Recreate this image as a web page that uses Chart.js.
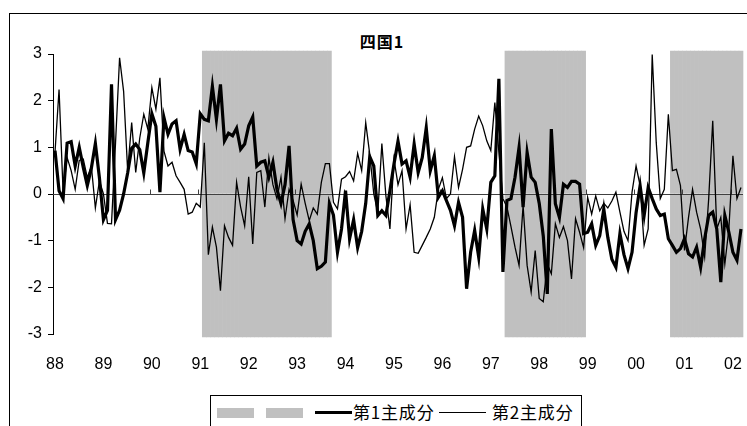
<!DOCTYPE html>
<html lang="ja">
<head>
<meta charset="utf-8">
<title>四国1</title>
<script src="https://cdn.jsdelivr.net/npm/chart.js@4.4.1/dist/chart.umd.min.js"></script>
<style>
  html, body { margin: 0; padding: 0; background: #fff; overflow: hidden; }
  #wrap { position: relative; width: 747px; height: 426px; overflow: hidden; }
  #frame { position: absolute; left: 9px; top: 13px; width: 800px; height: 500px; border: 1px solid #000; }
  #title { position: absolute; left: 0; width: 764px; top: 29px; text-align: center;
           font: bold 16px "Noto Sans CJK JP", sans-serif; letter-spacing: 1px; color: #000; }
  #chart { position: absolute; left: 0; top: 0; }
  #legend { position: absolute; left: 210px; top: 395px; width: 370px; height: 60px; border: 1px solid #000; background: #fff; }
  #legend .box { position: absolute; top: 12px; width: 37px; height: 10px; background: #c0c0c0; }
  #legend .ln { position: absolute; background: #000; }
  #legend .txt { position: absolute; top: 6px; font: 17px "Noto Sans CJK JP", sans-serif; color: #000;
                 line-height: 20px; letter-spacing: 0.8px; white-space: nowrap; }
</style>
</head>
<body>
<div id="wrap">
  <div id="frame"></div>
  <div id="title">四国1</div>
  <canvas id="chart" width="747" height="426"></canvas>
  <div id="legend">
    <span class="box" style="left:6px"></span>
    <span class="box" style="left:55px"></span>
    <span class="ln" style="left:104px; top:15px; width:37px; height:3px"></span>
    <span class="txt" style="left:142px">第1主成分</span>
    <span class="ln" style="left:228px; top:16px; width:47px; height:1px"></span>
    <span class="txt" style="left:281px">第2主成分</span>
  </div>
</div>
<script>
// --- DATA ---
const years = ['88', '89', '90', '91', '92', '93', '94', '95', '96', '97', '98', '99', '00', '01', '02'];
const lastMonth = 3; // series ends in 2002/03

// 第1主成分 (monthly, 1988/01 - 2002/03)
const pc1 = [
  0.93, 0.07, -0.1, 1.09, 1.12, 0.6, 1.0, 0.57, 0.18, 0.55, 1.08, 0.35,
  -0.55, -0.35, 2.35, -0.55, -0.35, 0.0, 0.45, 0.98, 1.07, 0.95, 0.45, 1.1,
  1.72, 1.45, 0.04, 1.64, 1.28, 1.5, 1.57, 0.96, 1.28, 0.93, 0.9, 0.65,
  1.72, 1.6, 1.57, 2.31, 1.6, 2.35, 1.14, 1.3, 1.25, 1.41, 0.96, 1.07,
  1.46, 1.65, 0.6, 0.68, 0.71, 0.36, 0.68, 0.1, -0.2, 0.2, 1.03, -0.55,
  -1.0, -1.07, -0.8, -0.64, -1.0, -1.6, -1.55, -1.46, -0.2, -0.45, -1.25, -0.75,
  0.07, -0.96, -0.55, -1.15, -0.8, -0.2, 0.8, 0.6, -0.46, -0.36, -0.46, 0.07,
  0.64, 1.13, 0.64, 0.71, 0.36, 1.07, 0.46, 0.78, 1.42, 0.5, 0.82, -0.07,
  0.07, -0.14, -0.35, -0.68, -0.18, -0.5, -2.03, -1.25, -0.78, -1.35, -0.32, -0.75,
  0.25, 0.39, 2.47, -1.67, -0.14, -0.1, 0.36, 1.0, -0.28, 0.89, 0.36, 0.25,
  -0.2, -0.9, -2.14, 1.39, -0.21, -0.5, 0.21, 0.14, 0.27, 0.27, 0.21, -0.85,
  -0.82, -0.64, -1.1, -0.89, -0.32, -0.93, -1.4, -1.57, -0.85, -1.3, -1.6, -1.25,
  -0.4, 0.18, -0.46, 0.14, -0.1, -0.32, -0.46, -0.43, -0.96, -1.1, -1.25, -1.17,
  -0.96, -1.28, -1.35, -1.14, -1.57, -0.96, -0.46, -0.39, -0.75, -1.89, -0.46, -0.82,
  -1.25, -1.42, -0.75
];

// 第2主成分
const pc2 = [
  0.9, 2.24, 0.05, 0.78, 0.5, 0.1, 0.72, 0.75, 0.35, 0.6, -0.3, 0.28,
  0.0, -0.63, -0.64, 1.1, 2.92, 2.2, 0.5, 1.53, 0.46, 1.2, 1.71, 1.39,
  2.28, 1.82, 2.49, 0.92, 0.6, 0.68, 0.39, 0.25, 0.1, -0.43, -0.39, -0.2,
  -0.28, 1.1, -1.3, -0.71, -1.14, -2.07, -0.68, -0.93, -1.1, 0.25, -0.28, -0.68,
  0.37, -1.07, 0.46, 0.5, -0.28, 0.78, 0.2, -0.1, 0.36, -0.53, 0.1, -0.14,
  -0.45, 0.21, -0.2, -0.57, -0.3, -0.43, 0.25, 0.65, 0.65, -0.18, -0.32, 0.32,
  0.37, 0.48, 0.28, 0.87, 0.5, 1.53, 0.85, 0.0, -0.4, 1.08, -0.04, -0.75,
  0.75, 0.2, 0.5, -0.75, -0.23, -1.25, -1.27, -1.1, -0.93, -0.75, -0.5, 0.1,
  0.35, -0.1, 0.0, 0.8, 0.14, 0.53, 1.0, 1.03, 1.39, 1.67, 1.46, 1.14,
  0.93, 1.96, 0.9, -0.1, -0.28, -0.7, -1.14, -1.53, -0.25, -1.53, -2.1, -1.21,
  -2.24, -2.31, -1.5, -1.71, -0.64, -0.93, -0.7, -1.0, -1.82, -0.53, -0.82, -1.15,
  -0.07, -0.43, -0.04, -0.36, -0.2, -0.3, -0.15, 0.04, -0.39, -0.8, -1.0, 0.04,
  0.6, 0.18, -1.1, -0.75, 2.99, 1.1, -0.1, 0.1, 1.71, 0.5, 0.53, 0.18,
  -1.21, -0.5, 0.1, -0.39, -0.75, -1.35, -0.1, 1.57, -0.75, -0.5, -1.5, -0.75,
  0.82, -0.1, 0.14
];

// recession periods (first and last shaded month, as yy/mm)
const recessions = [['91/02', '93/09'], ['97/05', '98/12'], ['00/10', '02/03']];
const SHADE = 3.06;

// --- CATEGORIES ---
const months = [];
years.forEach((y, i) => {
  const n = i === years.length - 1 ? lastMonth : 12;
  for (let m = 1; m <= n; m++) months.push(y + '/' + String(m).padStart(2, '0'));
});

function shaded(j) {
  return recessions.some(([a, b]) => j >= months.indexOf(a) && j <= months.indexOf(b));
}
const shadeUp = months.map((m, j) => shaded(j) ? SHADE : null);
const shadeDown = months.map((m, j) => shaded(j) ? -SHADE : null);

// zero axis with yearly tick marks (Excel style: axis crosses at 0)
const zeroAxis = {
  id: 'zeroAxis',
  afterDatasetDraw(chart, args) {
    if (args.index !== 2) return;
    const { ctx, chartArea, scales: { x, y } } = chart;
    const y0 = Math.round(y.getPixelForValue(0)) + 0.5;
    const step = x.getPixelForValue(1) - x.getPixelForValue(0);
    ctx.save();
    ctx.strokeStyle = '#404040';
    ctx.lineWidth = 1;
    ctx.beginPath();
    ctx.moveTo(chartArea.left, y0);
    ctx.lineTo(chartArea.right, y0);
    for (let k = 12; k < months.length; k += 12) {
      const px = Math.round(x.getPixelForValue(k) - step / 2) + 0.5;
      ctx.moveTo(px, y0);
      ctx.lineTo(px, y0 - 5);
    }
    ctx.stroke();
    ctx.restore();
  }
};

const tickFont = { family: '"Liberation Sans", Arial, sans-serif', size: 16 };

new Chart(document.getElementById('chart'), {
  type: 'bar',
  data: {
    labels: months,
    datasets: [
      { type: 'line', label: '第1主成分', data: pc1, borderColor: '#000', borderWidth: 3.2,
        pointRadius: 0, tension: 0, fill: false, order: 0 },
      { type: 'line', label: '第2主成分', data: pc2, borderColor: '#000', borderWidth: 1.3,
        pointRadius: 0, tension: 0, fill: false, order: 0 },
      { label: '', data: shadeUp, backgroundColor: '#c0c0c0', borderWidth: 0,
        barPercentage: 1, categoryPercentage: 1, grouped: false, clip: false, order: 1 },
      { label: '', data: shadeDown, backgroundColor: '#c0c0c0', borderWidth: 0,
        barPercentage: 1, categoryPercentage: 1, grouped: false, clip: false, order: 1 }
    ]
  },
  options: {
    responsive: false,
    animation: false,
    devicePixelRatio: 1,
    layout: { padding: { left: 8, right: 4, top: 54, bottom: 0 } },
    scales: {
      x: {
        offset: true,
        grid: { display: false, drawTicks: false },
        border: { display: false },
        ticks: { color: '#000', font: tickFont, padding: 21, maxRotation: 0, minRotation: 0, autoSkip: false,
                 callback: v => v % 12 === 0 ? months[v].slice(0, 2) : '' },
        afterFit: scale => { scale.height = 92; scale.paddingLeft = 0; scale.paddingRight = 0; }
      },
      y: {
        min: -3,
        max: 3,
        grid: { display: true, drawOnChartArea: false, drawTicks: true, tickLength: 5, color: '#000' },
        border: { display: true, color: '#000' },
        ticks: { stepSize: 1, color: '#000', font: tickFont, padding: 6 },
        afterFit: scale => { scale.width = 45; }
      }
    },
    plugins: {
      legend: { display: false },
      tooltip: { enabled: false },
      title: { display: false }
    }
  },
  plugins: [zeroAxis]
});
</script>
</body>
</html>
